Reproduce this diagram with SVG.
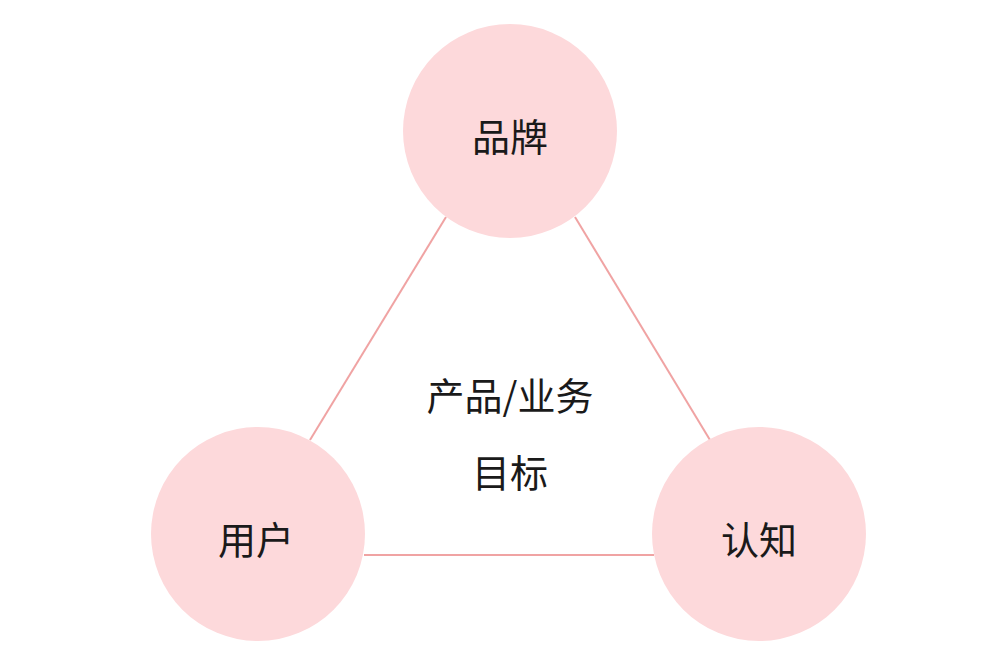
<svg xmlns="http://www.w3.org/2000/svg" width="1005" height="669" viewBox="0 0 1005 669">
<style>
.n{fill:#fdd9db}
.t{font-family:"Noto Sans CJK SC","Noto Sans",sans-serif;font-size:38px;fill:#1a1a1a;text-anchor:middle;dominant-baseline:central}
.c{stroke:#f0a3a3;stroke-width:2;fill:none}
</style>
<rect width="1005" height="669" fill="#fff"/>
<g id="connectors">
<line class="c" x1="446" y1="217" x2="310" y2="440"/>
<line class="c" x1="575" y1="217" x2="710" y2="440"/>
<line class="c" x1="364" y1="555" x2="654" y2="555"/>
</g>
<g id="brand"><circle class="n" cx="510" cy="131" r="107"/><text class="t" x="510" y="134">品牌</text></g>
<g id="user"><circle class="n" cx="258" cy="534" r="107"/><text class="t" x="256" y="537">用户</text></g>
<g id="cognition"><circle class="n" cx="759" cy="534" r="107"/><text class="t" x="759" y="537">认知</text></g>
<g id="goal"><text class="t" x="510" y="393">产品/业务</text><text class="t" x="510" y="470">目标</text></g>
</svg>
